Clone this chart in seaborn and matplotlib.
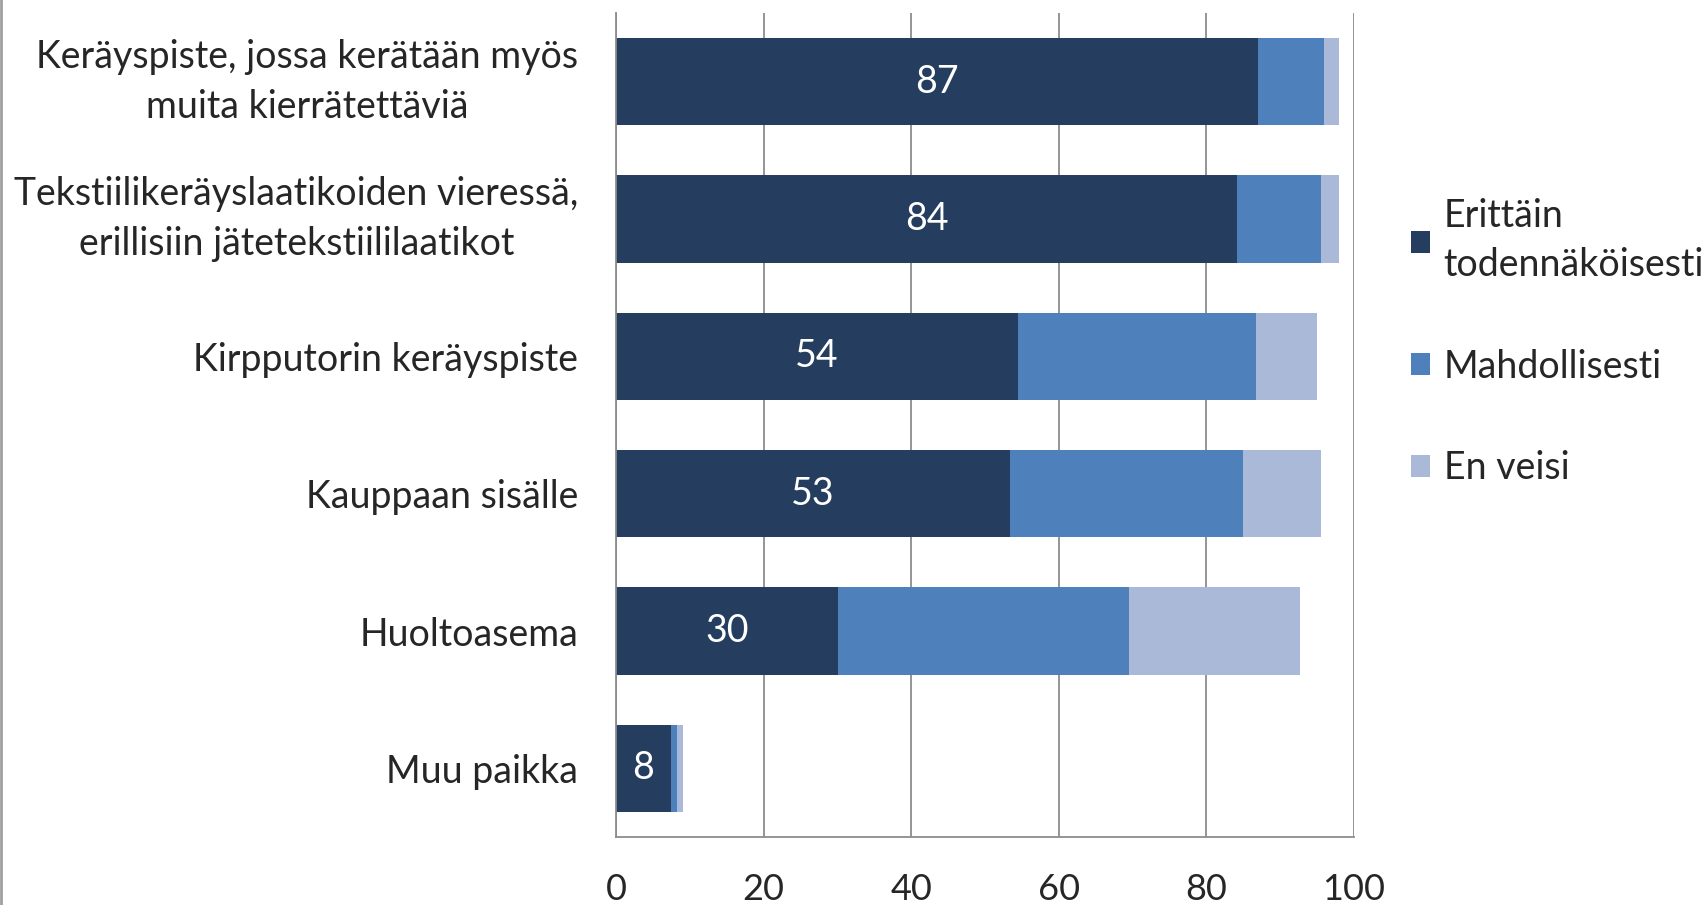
import pandas as pd
import seaborn as sns
import matplotlib.pyplot as plt
from matplotlib.lines import Line2D
from matplotlib.patches import Patch

categories = [
    "Keräyspiste, jossa kerätään myös\nmuita kierrätettäviä",
    "Tekstiilikeräyslaatikoiden vieressä,\nerillisiin jätetekstiililaatikot",
    "Kirpputorin keräyspiste",
    "Kauppaan sisälle",
    "Huoltoasema",
    "Muu paikka",
]
erittain = [87, 84.2, 54.5, 53.4, 30.1, 7.4]
mahdollisesti = [9, 11.3, 32.2, 31.6, 39.4, 0.9]
en_veisi = [2, 2.5, 8.3, 10.5, 23.2, 0.8]
labels = [87, 84, 54, 53, 30, 8]

series = ["Erittäin\ntodennäköisesti", "Mahdollisesti", "En veisi"]
colors = ["#253E60", "#4E80BC", "#A9B9D7"]

df = pd.DataFrame({"paikka": categories, "e": erittain, "m": mahdollisesti, "v": en_veisi})
df["c1"] = df["e"]
df["c2"] = df["e"] + df["m"]
df["c3"] = df["c2"] + df["v"]

sns.set_style("white")
plt.rcParams["font.family"] = ["Lato", "DejaVu Sans"]

fig = plt.figure(figsize=(17.08, 9.05), dpi=100)
ax = fig.add_axes([616 / 1708, 68 / 905, 738 / 1708, 824 / 905])

# draw cumulative totals back to front
for col, c in zip(["c3", "c2", "c1"], colors[::-1]):
    sns.barplot(data=df, x=col, y="paikka", color=c, width=0.635, ax=ax,
                saturation=1, linewidth=0, orient="h")

for i, (val, lab) in enumerate(zip(erittain, labels)):
    ax.text(val / 2, i, str(lab), color="white", ha="center", va="center", fontsize=27)

ax.set_xlim(0, 100)
ax.set_ylim(5.5, -0.5)
ax.set_xticks([0, 20, 40, 60, 80, 100])
ax.set_xlabel("")
ax.set_ylabel("")
ax.xaxis.grid(True, color="#8C8C8C", linewidth=1.3)
ax.set_axisbelow(True)
ax.tick_params(axis="x", length=0, pad=26, labelsize=26)
ax.tick_params(axis="y", length=0, pad=27, labelsize=27)
for lbl in ax.get_yticklabels():
    lbl.set_multialignment("center")
    lbl.set_linespacing(1.48)
    if "\n" in lbl.get_text():
        lbl.set_verticalalignment("center")
for s in ["top", "right"]:
    ax.spines[s].set_visible(False)
for s in ["left", "bottom"]:
    ax.spines[s].set_color("#8C8C8C")
    ax.spines[s].set_linewidth(1.3)

handles = [Patch(facecolor=c, edgecolor="none") for c in colors]
leg = fig.legend(handles, series, loc="upper left", bbox_to_anchor=(1411 / 1708, 1 - 198 / 905),
                 frameon=False, fontsize=27, handlelength=0.52, handleheight=0.52,
                 handletextpad=0.35, labelspacing=1.75, borderpad=0, borderaxespad=0)
for t in leg.get_texts():
    t.set_linespacing(1.45)

fig.add_artist(Line2D([0.0007, 0.0007], [0, 1], color="#A0A0A0", linewidth=2,
                      transform=fig.transFigure))

fig.savefig("out.png", dpi=100)
